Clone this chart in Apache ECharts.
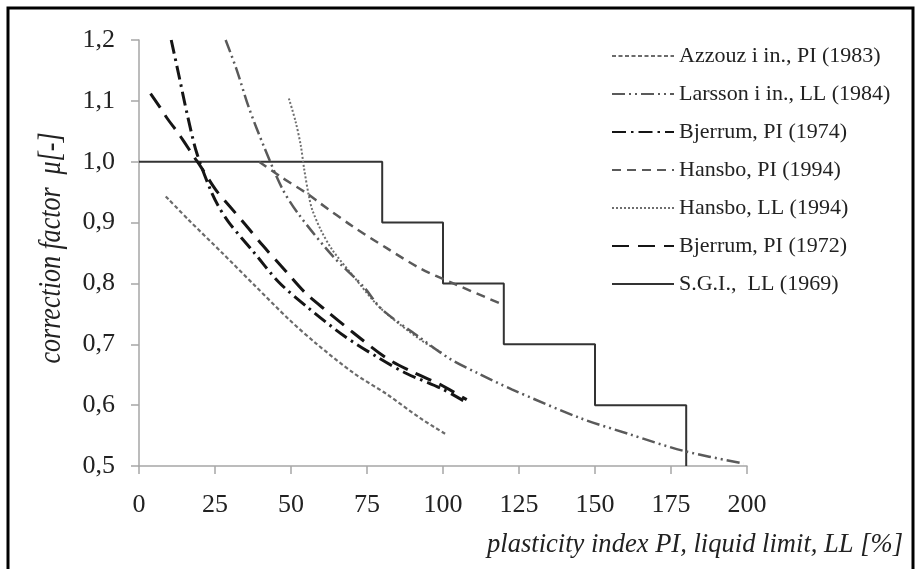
<!DOCTYPE html>
<html>
<head>
<meta charset="utf-8">
<script src="https://cdn.jsdelivr.net/npm/echarts@6/dist/echarts.min.js"></script>
<style>
  html, body { margin: 0; padding: 0; background: #fff; }
  #chart { width: 924px; height: 569px; }
</style>
</head>
<body>
<div id="chart"></div>
<script>
// values: [x (PI or LL, %), correction factor]
const azzouzPI1983 = [[8.8, 0.943], [16.4, 0.904], [27.4, 0.85], [38.4, 0.795], [49.3, 0.741], [58.1, 0.702], [70.5, 0.653], [81.5, 0.618], [92.4, 0.579], [101, 0.552]]
const larssonLL1984 = [[28.5, 1.2], [32, 1.153], [36.2, 1.088], [41.1, 1.025], [47.1, 0.956], [52.6, 0.913], [63.9, 0.844], [73.8, 0.795], [80, 0.757], [92.4, 0.711], [102.3, 0.676], [111.6, 0.652], [122.6, 0.626], [145, 0.579], [161.5, 0.552], [179, 0.525], [198.8, 0.504]]
const bjerrumPI1974 = [[10.6, 1.2], [13.2, 1.14], [15.9, 1.077], [18.9, 1.016], [23.4, 0.955], [26, 0.928], [29.6, 0.9], [37.8, 0.851], [46, 0.802], [55.4, 0.761], [67.4, 0.714], [78.7, 0.678], [88, 0.652], [99.6, 0.627], [107.8, 0.604]]
const hansboPI1994 = [[39.5, 1.0], [46.4, 0.976], [55.2, 0.948], [59.5, 0.932], [70.5, 0.893], [81.5, 0.858], [92.4, 0.825], [103.4, 0.8], [119.8, 0.765]]
const hansboLL1994 = [[49.3, 1.104], [51.5, 1.066], [53.2, 1.027], [54.3, 0.989], [55.9, 0.943], [57, 0.921], [59.8, 0.888], [63.6, 0.855], [70.5, 0.812], [79.3, 0.76], [92.4, 0.708], [100, 0.685]]
const bjerrumPI1972 = [[3.8, 1.112], [7.1, 1.088], [9.3, 1.071], [12.6, 1.049], [14.8, 1.033], [18.1, 1.008], [20.3, 0.992], [25.2, 0.954], [29.6, 0.928], [35.1, 0.896], [40.6, 0.863], [48.3, 0.82], [54.8, 0.784], [61.9, 0.754], [70.5, 0.719], [81.5, 0.677], [90.2, 0.654], [99, 0.634], [107.8, 0.609]]
// S.G.I. steps: value holds until the next x
const sgiLL1969 = [[0, 1.0], [80, 0.9], [100, 0.8], [120, 0.7], [150, 0.6], [180, 0.5]]

const seriesNames = [
  'Azzouz i in., PI (1983)',
  'Larsson i in., LL (1984)',
  'Bjerrum, PI (1974)',
  'Hansbo, PI (1994)',
  'Hansbo, LL (1994)',
  'Bjerrum, PI (1972)',
  'S.G.I.,  LL (1969)'
]
const seriesData = [azzouzPI1983, larssonLL1984, bjerrumPI1974, hansboPI1994, hansboLL1994, bjerrumPI1972, sgiLL1969]
const lineStyles = [
  { color: '#6b6b6b', width: 2.2, type: [4, 2.5] },
  { color: '#5a5a5a', width: 2.5, type: [13, 4, 2, 4, 2, 4] },
  { color: '#151515', width: 3, type: [14, 5, 2.5, 5] },
  { color: '#5a5a5a', width: 2.5, type: [9, 6] },
  { color: '#6e6e6e', width: 2, type: [2, 2] },
  { color: '#151515', width: 3, type: [17, 9] },
  { color: '#333333', width: 2, type: 'solid' }
]

const serif = '"Liberation Serif", "Times New Roman", serif'

// squeeze a text horizontally so that it spans the wanted width
function fitScale (text, font, target) {
  const ctx = document.createElement('canvas').getContext('2d')
  ctx.font = font
  return target / ctx.measureText(text).width
}

const yTitle = 'correction factor  μ[-]'
const yTitleFont = 'italic 32px ' + serif
const xTitle = 'plasticity index PI, liquid limit, LL [%]'
const xTitleFont = 'italic 28px ' + serif

const chart = echarts.init(document.getElementById('chart'))
chart.setOption({
  backgroundColor: '#fff',
  animation: false,
  grid: { left: 139, right: 177, top: 40, bottom: 103 },
  legend: {
    orient: 'vertical',
    left: 606,
    top: 40,
    itemWidth: 62,
    itemHeight: 18,
    itemGap: 16,
    itemStyle: { opacity: 0, borderWidth: 0 },
    textStyle: { fontFamily: serif, fontSize: 22, color: '#222', lineHeight: 18 },
    data: seriesNames
  },
  xAxis: {
    type: 'value',
    min: 0,
    max: 200,
    interval: 25,
    axisLine: { lineStyle: { color: '#a6a6a6', width: 1.5 } },
    axisTick: { length: 8, lineStyle: { color: '#a6a6a6', width: 1.5 } },
    axisLabel: { margin: 26, fontFamily: serif, fontSize: 26, color: '#222' },
    splitLine: { show: false }
  },
  yAxis: {
    type: 'value',
    min: 0.5,
    max: 1.2,
    interval: 0.1,
    axisLine: { show: true, lineStyle: { color: '#a6a6a6', width: 1.5 } },
    axisTick: { show: true, length: 8, lineStyle: { color: '#a6a6a6', width: 1.5 } },
    axisLabel: {
      margin: 24,
      fontFamily: serif,
      fontSize: 26,
      color: '#222',
      formatter: v => v.toFixed(1).replace('.', ',')
    },
    splitLine: { show: false }
  },
  series: seriesNames.map((name, i) => ({
    name: name,
    type: 'line',
    data: seriesData[i],
    showSymbol: false,
    symbol: 'none',
    smooth: i === 6 ? false : 0.3,
    step: i === 6 ? 'end' : false,
    lineStyle: lineStyles[i],
    itemStyle: { color: lineStyles[i].color },
    z: 10 - i
  })),
  graphic: [
    {
      type: 'rect',
      shape: { x: 8, y: 8, width: 905, height: 580 },
      style: { fill: 'none', stroke: '#000', lineWidth: 3 },
      silent: true
    },
    {
      type: 'text',
      x: 52,
      y: 248,
      rotation: Math.PI / 2,
      scaleX: fitScale(yTitle, yTitleFont, 231),
      style: {
        text: yTitle,
        font: yTitleFont,
        fill: '#222',
        align: 'center',
        verticalAlign: 'middle'
      }
    },
    {
      type: 'text',
      x: 695,
      y: 545,
      scaleX: fitScale(xTitle, xTitleFont, 416),
      style: {
        text: xTitle,
        font: xTitleFont,
        fill: '#222',
        align: 'center',
        verticalAlign: 'middle'
      }
    }
  ]
})
</script>
</body>
</html>
